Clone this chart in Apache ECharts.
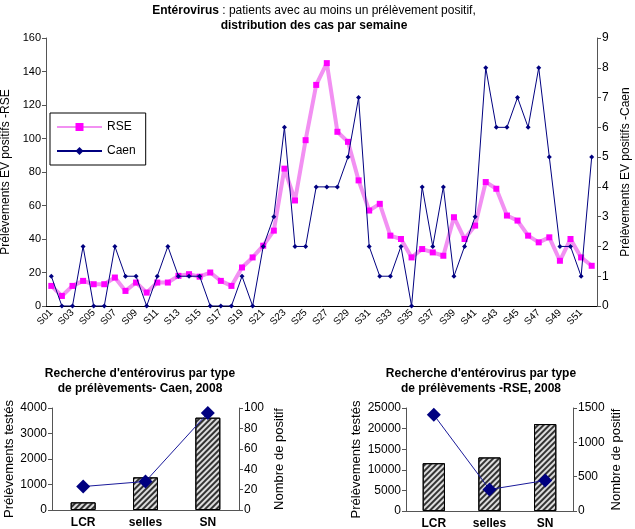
<!DOCTYPE html>
<html><head><meta charset="utf-8">
<script src="https://cdn.jsdelivr.net/npm/echarts@6/dist/echarts.min.js"></script>
<style>html,body{margin:0;padding:0;background:#fff}#c{width:635px;height:529px}</style>
</head><body><div id="c"></div>
<script>
var weeks = [];
for (var i = 1; i <= 52; i++) weeks.push('S' + (i < 10 ? '0' + i : '' + i));
var rse = [12,6,12,15,13,13,17,9,14,8,14,14,18,19,17.5,20,15,12,23,29,36,45,82,63,99,132,145,104,98,75,57,61,42,40,29,34,32,30,53,40,48,74,70,54,51,42,38,41,27,40,29,24];
var caen = [1,0,0,2,0,0,2,1,1,0,1,2,1,1,1,0,0,0,1,0,2,3,6,2,2,4,4,4,5,7,2,1,1,2,0,4,2,4,1,2,3,8,6,6,7,6,8,5,2,2,1,5];
var types = ['LCR','selles','SN'];
var caenTested = [300,1280,3620];
var caenPositive = [23,28,95];
var rseTested = [11600,13000,21100];
var rsePositive = [1400,313,444];

var FF = 'Liberation Sans, Arial, sans-serif';
var axisCol = '#555';
var chart = echarts.init(document.getElementById('c'));
var decal = {symbol:'rect', symbolSize:1, dashArrayX:[1,0], dashArrayY:[2,2], rotation:-Math.PI/4, color:'#333'};
function yAx(grid, min, max, interval, name, pos, gap, fs, lfs){
  return {type:'value', gridIndex:grid, min:min, max:max, interval:interval, position:pos,
    name:name, nameLocation:'middle', nameGap:gap, nameRotate:90,
    nameTextStyle:{fontFamily:FF, fontSize:fs||12, color:'#000'},
    axisLine:{show:true, lineStyle:{color:axisCol}}, axisTick:{show:true, length:4, lineStyle:{color:axisCol}},
    axisLabel:{fontFamily:FF, fontSize:lfs||11, color:'#000', margin:5, formatter:function(v){return String(v);}},
    splitLine:{show:false}};
}
var option = {
  animation:false,
  backgroundColor:'#fff',
  title:[
    {text:'{b|Entérovirus} : patients avec au moins un prélèvement positif,\n{b|distribution des cas par semaine}',
     left:309, top:-2, textAlign:'center',
     textStyle:{fontFamily:FF, fontSize:12, fontWeight:'normal', color:'#000', lineHeight:15,
       rich:{b:{fontFamily:FF, fontSize:12, fontWeight:'bold', color:'#000', lineHeight:15}}}},
    {text:"Recherche d'entérovirus par type\nde prélèvements- Caen, 2008", left:135, top:361, textAlign:'center',
     textStyle:{fontFamily:FF, fontSize:12, fontWeight:'bold', color:'#000', lineHeight:15}},
    {text:"Recherche d'entérovirus par type\nde prélèvements -RSE, 2008", left:476, top:361, textAlign:'center',
     textStyle:{fontFamily:FF, fontSize:12, fontWeight:'bold', color:'#000', lineHeight:15}}
  ],
  legend:{data:['RSE','Caen'], left:50, top:113, orient:'vertical', borderColor:'#000', borderWidth:1,
    padding:[8,10,8,6], itemGap:12, itemWidth:45, itemHeight:10, backgroundColor:'#fff',
    textStyle:{fontFamily:FF, fontSize:12, color:'#000'}},
  grid:[
    {left:46, top:38, width:551, height:268, outerBoundsMode:'none', containLabel:false},
    {left:52, top:408, width:187, height:102, outerBoundsMode:'none', containLabel:false},
    {left:406, top:408, width:167, height:103, outerBoundsMode:'none', containLabel:false}
  ],
  xAxis:[
    {type:'category', gridIndex:0, data:weeks, boundaryGap:true,
     axisLine:{lineStyle:{color:'#000'}}, axisTick:{interval:0, length:4, lineStyle:{color:'#000'}},
     axisLabel:{interval:1, rotate:45, fontFamily:FF, fontSize:10, color:'#000', margin:5}},
    {type:'category', gridIndex:1, data:types, axisLine:{lineStyle:{color:axisCol}}, axisTick:{length:4, lineStyle:{color:axisCol}},
     axisLabel:{fontFamily:FF, fontSize:12, fontWeight:'bold', color:'#000', margin:7}},
    {type:'category', gridIndex:2, data:types, axisLine:{lineStyle:{color:axisCol}}, axisTick:{length:4, lineStyle:{color:axisCol}},
     axisLabel:{fontFamily:FF, fontSize:12, fontWeight:'bold', color:'#000', margin:7}}
  ],
  yAxis:[
    yAx(0,0,160,20,'Prélèvements EV positifs -RSE','left',30,12,11),
    yAx(0,0,9,1,'Prélèvements EV positifs -Caen','right',21,12,12),
    yAx(1,0,4000,1000,'Prélèvements testés','left',36,13,12),
    yAx(1,0,100,20,'Nombre de positif','right',34,13,12),
    yAx(2,0,25000,5000,'Prélèvements testés','left',43,13,12),
    yAx(2,0,1500,500,'Nombre de positif','right',37,13,12)
  ],
  series:[
    {name:'RSE', type:'line', xAxisIndex:0, yAxisIndex:0, data:rse, symbol:'rect', symbolSize:6,
     lineStyle:{color:'#f290f2', width:4}, itemStyle:{color:'#ff00ff'}, z:2},
    {name:'Caen', type:'line', xAxisIndex:0, yAxisIndex:1, data:caen, symbol:'diamond', symbolSize:5,
     lineStyle:{color:'#000080', width:1}, itemStyle:{color:'#000080'}, z:3},
    {type:'bar', xAxisIndex:1, yAxisIndex:2, data:caenTested, barWidth:'40%',
     itemStyle:{color:'#ddd', borderColor:'#000', borderWidth:1, decal:decal}},
    {type:'line', xAxisIndex:1, yAxisIndex:3, data:caenPositive, symbol:'diamond', symbolSize:14,
     lineStyle:{color:'#1a1a9a', width:1}, itemStyle:{color:'#000080'}},
    {type:'bar', xAxisIndex:2, yAxisIndex:4, data:rseTested, barWidth:'40%',
     itemStyle:{color:'#ddd', borderColor:'#000', borderWidth:1, decal:decal}},
    {type:'line', xAxisIndex:2, yAxisIndex:5, data:rsePositive, symbol:'diamond', symbolSize:14,
     lineStyle:{color:'#1a1a9a', width:1}, itemStyle:{color:'#000080'}}
  ]
};
chart.setOption(option);
</script></body></html>
